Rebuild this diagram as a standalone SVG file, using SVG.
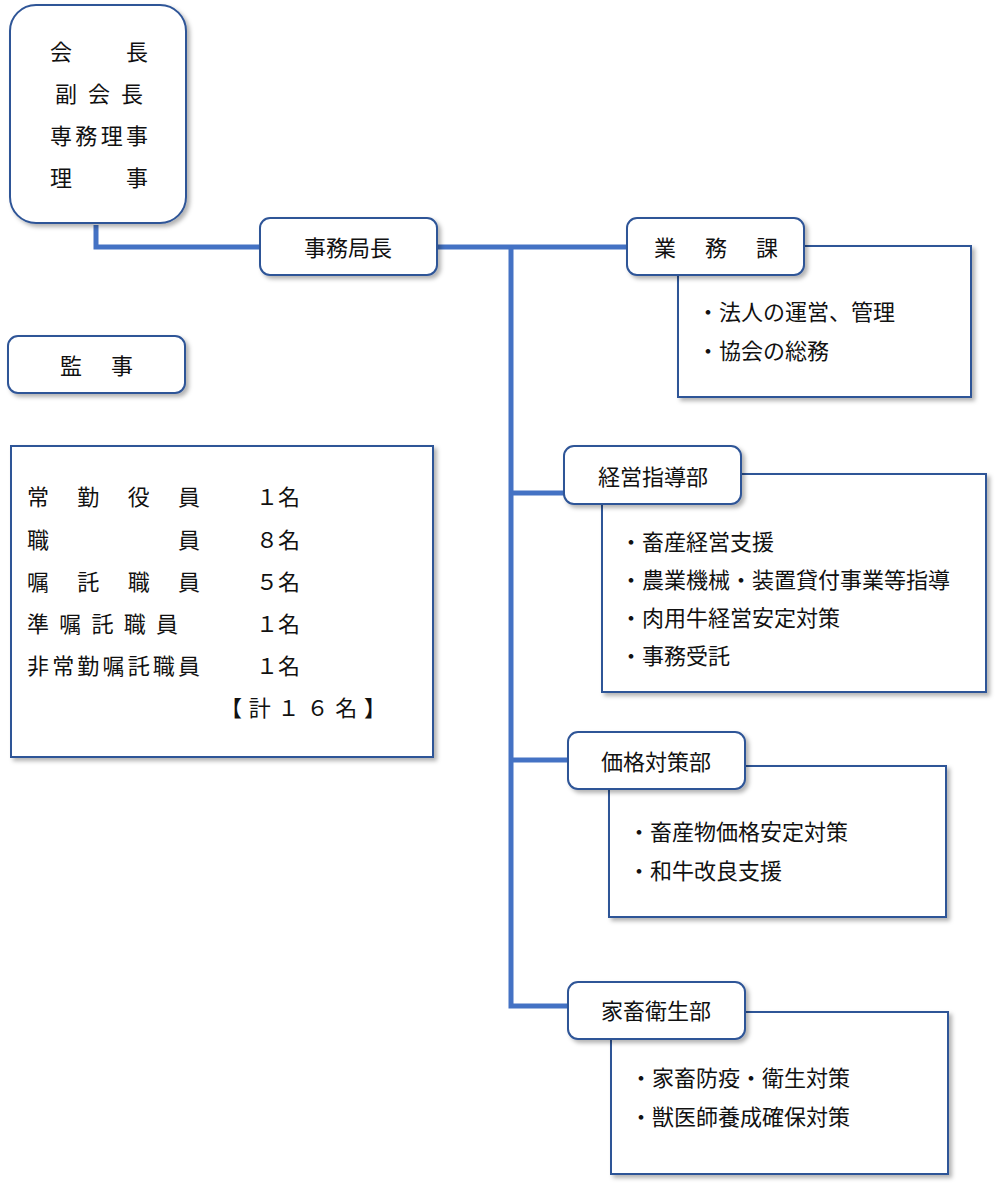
<svg xmlns="http://www.w3.org/2000/svg" width="1000" height="1189" viewBox="0 0 1000 1189">
<defs>
<filter id="sh" x="-10%" y="-10%" width="130%" height="130%"><feDropShadow dx="3" dy="3" stdDeviation="2" flood-color="#000" flood-opacity="0.3"/></filter>
<style>
.b{fill:#fff;stroke:#2F5597;stroke-width:2;filter:url(#sh)}
.t{font-family:"Noto Sans CJK JP",sans-serif;font-size:22px;fill:#111;dominant-baseline:central}
.c{text-anchor:middle}
.l{fill:none;stroke:#4472C4;stroke-width:5}
</style>
</defs>
<rect width="1000" height="1189" fill="#fff"/>
<g id="connectors">
<polyline class="l" points="96,225 96,247 262,247"/>
<line class="l" x1="437" y1="247" x2="629" y2="247"/>
<polyline class="l" points="511,247 511,1006 570,1006"/>
<line class="l" x1="511" y1="493" x2="566" y2="493"/>
<line class="l" x1="511" y1="760" x2="570" y2="760"/>
</g>
<g id="board">
<rect class="b" x="10" y="5" width="176" height="218" rx="26"/>
<text class="t" x="50" y="50" textLength="98" lengthAdjust="spacing">会　　長</text>
<text class="t" x="55" y="92" textLength="88" lengthAdjust="spacing">副会長</text>
<text class="t" x="50" y="134" textLength="98" lengthAdjust="spacing">専務理事</text>
<text class="t" x="50" y="176" textLength="98" lengthAdjust="spacing">理　　事</text>
</g>
<g id="jimukyokucho">
<rect class="b" x="260" y="218" width="177" height="57" rx="10"/>
<text class="t c" x="348" y="246">事務局長</text>
</g>
<g id="kanji">
<rect class="b" x="8" y="336" width="177" height="57" rx="10"/>
<text class="t" x="60" y="364" textLength="73" lengthAdjust="spacing">監　事</text>
</g>
<g id="staff">
<rect class="b" x="11" y="446" width="422" height="311"/>
<text class="t" x="27" y="495" textLength="173" lengthAdjust="spacing">常　勤　役　員</text>
<text class="t" x="27" y="538" textLength="173" lengthAdjust="spacing">職　　　　　員</text>
<text class="t" x="27" y="580" textLength="173" lengthAdjust="spacing">嘱　託　職　員</text>
<text class="t" x="27" y="622" textLength="151" lengthAdjust="spacing">準嘱託職員</text>
<text class="t" x="27" y="664" textLength="173" lengthAdjust="spacing">非常勤嘱託職員</text>
<text class="t" x="256" y="495">１名</text>
<text class="t" x="256" y="538">８名</text>
<text class="t" x="256" y="580">５名</text>
<text class="t" x="256" y="622">１名</text>
<text class="t" x="256" y="664">１名</text>
<text class="t" x="220" y="706" textLength="166" lengthAdjust="spacing">【計１６名】</text>
</g>
<g id="gyomuka">
<rect class="b" x="678" y="246" width="293" height="151"/>
<rect class="b" x="627" y="218" width="177" height="57" rx="10"/>
<text class="t" x="654" y="246" textLength="124" lengthAdjust="spacing">業　務　課</text>
<text class="t" x="697" y="310">・法人の運営、管理</text>
<text class="t" x="697" y="349">・協会の総務</text>
</g>
<g id="keiei">
<rect class="b" x="602" y="474" width="384" height="218"/>
<rect class="b" x="564" y="446" width="177" height="58" rx="10"/>
<text class="t c" x="653" y="475">経営指導部</text>
<text class="t" x="620" y="540">・畜産経営支援</text>
<text class="t" x="620" y="578">・農業機械・装置貸付事業等指導</text>
<text class="t" x="620" y="616">・肉用牛経営安定対策</text>
<text class="t" x="620" y="654">・事務受託</text>
</g>
<g id="kakaku">
<rect class="b" x="609" y="766" width="337" height="151"/>
<rect class="b" x="568" y="732" width="177" height="57" rx="10"/>
<text class="t c" x="656" y="760">価格対策部</text>
<text class="t" x="628" y="830">・畜産物価格安定対策</text>
<text class="t" x="628" y="869">・和牛改良支援</text>
</g>
<g id="kachiku">
<rect class="b" x="611" y="1012" width="337" height="162"/>
<rect class="b" x="568" y="982" width="177" height="57" rx="10"/>
<text class="t c" x="656" y="1009">家畜衛生部</text>
<text class="t" x="630" y="1076">・家畜防疫・衛生対策</text>
<text class="t" x="630" y="1115">・獣医師養成確保対策</text>
</g>
</svg>
